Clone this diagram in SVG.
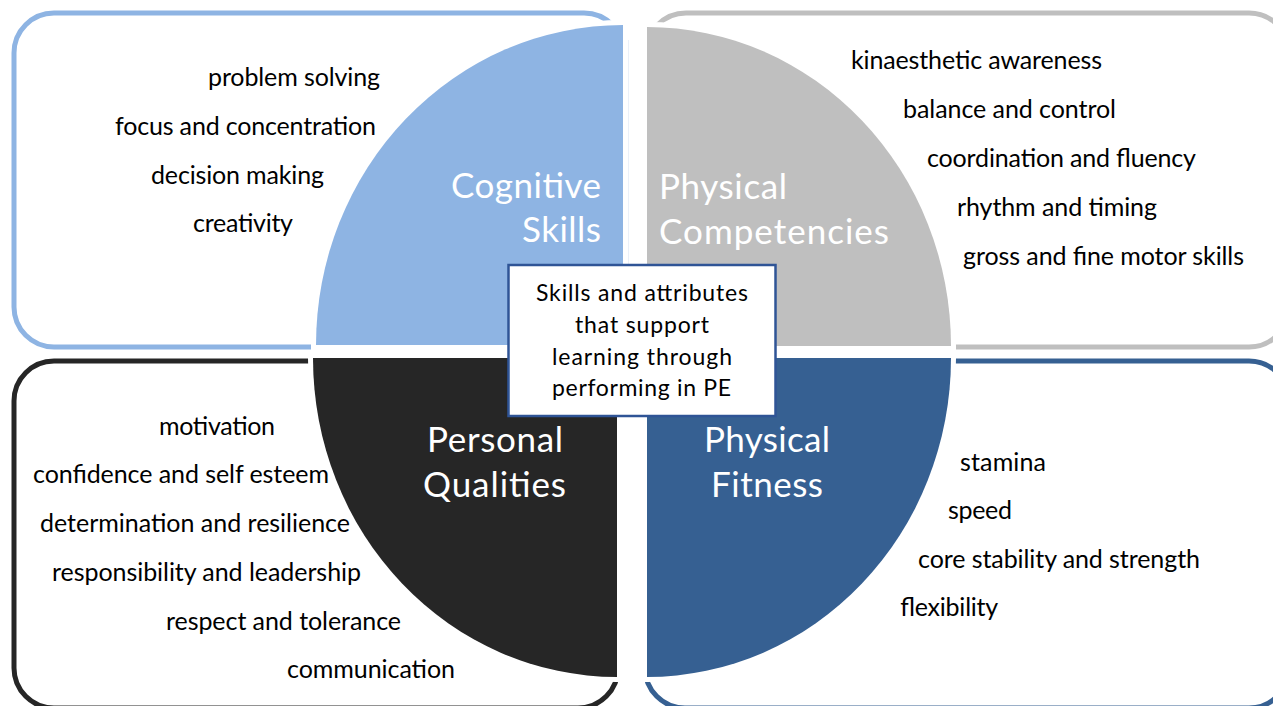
<svg xmlns="http://www.w3.org/2000/svg" width="1273" height="706" viewBox="0 0 1273 706">
<style>
.frame{fill:#fff;stroke-width:5}
.q{stroke:#fff;stroke-width:10;paint-order:stroke}
.t{font-family:Lato,"Liberation Sans",sans-serif;font-size:25px;fill:#000}
.h{font-family:Lato,"Liberation Sans",sans-serif;font-size:35px;fill:#fff}
.c{font-family:Lato,"Liberation Sans",sans-serif;font-size:23px;fill:#000}
</style>
<rect width="1273" height="706" fill="#fff"/>
<g id="frames">
<rect id="frame-cognitive" class="frame" x="14" y="13" width="610" height="334" rx="40" stroke="#8EB4E3"/>
<rect id="frame-physical-comp" class="frame" x="646" y="13" width="643" height="334" rx="40" stroke="#BFBFBF"/>
<rect id="frame-personal" class="frame" x="14" y="361" width="604" height="347" rx="40" stroke="#262626"/>
<rect id="frame-fitness" class="frame" x="645" y="361" width="644" height="347" rx="40" stroke="#366092"/>
</g>
<g id="pale-lines" stroke="#DDE6F4" stroke-width="1.2">
<line x1="628" y1="40" x2="628" y2="345"/>
<line x1="313" y1="348" x2="623" y2="348"/>
</g>
<g id="cognitive">
<path class="q" fill="#8EB4E3" d="M623,345 L316,345 A307,320 0 0 1 623,25 Z"/>
<text class="h" x="451" y="198" textLength="150">Cognitive</text>
<text class="h" x="522" y="242" textLength="79">Skills</text>
<text class="t" x="208" y="86" textLength="172">problem solving</text>
<text class="t" x="115" y="135" textLength="261">focus and concentration</text>
<text class="t" x="151" y="184" textLength="173">decision making</text>
<text class="t" x="193" y="232" textLength="100">creativity</text>
</g>
<g id="physical-competencies">
<path class="q" fill="#BFBFBF" d="M647,346 L647,27 A304,319 0 0 1 951,346 Z"/>
<text class="h" x="659" y="199" textLength="128">Physical</text>
<text class="h" x="659" y="244" textLength="230">Competencies</text>
<text class="t" x="851" y="69" textLength="251">kinaesthetic awareness</text>
<text class="t" x="903" y="118" textLength="213">balance and control</text>
<text class="t" x="927" y="167" textLength="269">coordination and fluency</text>
<text class="t" x="957" y="216" textLength="200">rhythm and timing</text>
<text class="t" x="963" y="265" textLength="281">gross and fine motor skills</text>
</g>
<g id="personal-qualities">
<path class="q" fill="#262626" d="M617,358 L617,677 A304,319 0 0 1 313,358 Z"/>
<text class="h" x="427" y="452" textLength="136">Personal</text>
<text class="h" x="423" y="497" textLength="143">Qualities</text>
<text class="t" x="159" y="435" textLength="116">motivation</text>
<text class="t" x="33" y="483" textLength="296">confidence and self esteem</text>
<text class="t" x="40" y="532" textLength="310">determination and resilience</text>
<text class="t" x="52" y="581" textLength="309">responsibility and leadership</text>
<text class="t" x="166" y="630" textLength="235">respect and tolerance</text>
<text class="t" x="287" y="678" textLength="168">communication</text>
</g>
<g id="physical-fitness">
<path class="q" fill="#366092" d="M647,358 L951,358 A304,319 0 0 1 647,677 Z"/>
<text class="h" x="704" y="452" textLength="126">Physical</text>
<text class="h" x="711" y="497" textLength="112">Fitness</text>
<text class="t" x="960" y="471" textLength="86">stamina</text>
<text class="t" x="948" y="519" textLength="64">speed</text>
<text class="t" x="918" y="568" textLength="282">core stability and strength</text>
<text class="t" x="900" y="616" textLength="98">flexibility</text>
</g>
<g id="center">
<rect x="508.5" y="265" width="267" height="151" fill="#fff" stroke="#2F5496" stroke-width="2.5"/>
<text class="c" x="536" y="301" textLength="212">Skills and attributes</text>
<text class="c" x="575" y="333" textLength="134">that support</text>
<text class="c" x="552" y="365" textLength="180">learning through</text>
<text class="c" x="552" y="396" textLength="179">performing in PE</text>
</g>
<g id="connectors"/>
</svg>
